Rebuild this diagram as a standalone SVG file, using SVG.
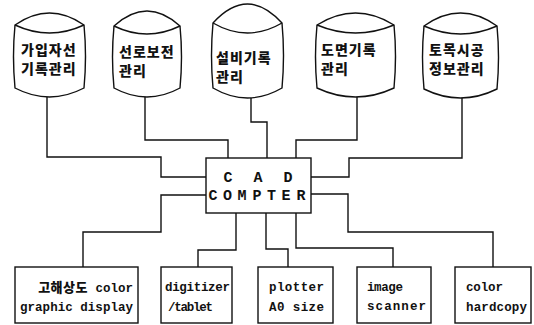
<svg xmlns="http://www.w3.org/2000/svg" width="534" height="325" viewBox="0 0 534 325">
<style>
.s{fill:#fff;stroke:#111;stroke-width:1.4}
.ln{fill:none;stroke:#111;stroke-width:1.4}
.k{font-family:"Noto Sans CJK KR","Noto Sans",sans-serif;font-weight:900;font-size:14px;fill:#111;letter-spacing:1px}
.m{font-family:"Liberation Mono","DejaVu Sans Mono",monospace;font-weight:bold;font-size:12.5px;fill:#111}
.c{font-family:"Liberation Mono","DejaVu Sans Mono",monospace;font-weight:bold;font-size:15px;fill:#111;text-anchor:middle}
</style>
<rect width="534" height="325" fill="#fff"/>
<g id="connectors">
<path class="ln" d="M47,97 V157 H161 V177 H206"/>
<path class="ln" d="M145,97 V140 H228 V158"/>
<path class="ln" d="M251,98 V122 H267 V158"/>
<path class="ln" d="M357,97 V140 H296 V158"/>
<path class="ln" d="M462,98 V158 H349 V177 H311"/>
<path class="ln" d="M206,195 H161 V232 H83 V267"/>
<path class="ln" d="M236,213 V250 H198 V267"/>
<path class="ln" d="M266,213 V249 H288 V267"/>
<path class="ln" d="M296,213 V248 H393 V267"/>
<path class="ln" d="M311,194 H348 V232 H493 V267"/>
</g>
<g id="db1">
<path class="s" d="M15,25 Q49.5,1 84,25 Q87,56.5 84,88 Q49.5,106 15,88 Q12,56.5 15,25 Z"/>
<path class="ln" d="M15,25 Q49.5,41 84,25"/>
<text class="k" x="21" y="54.5">가입자선</text>
<text class="k" x="21" y="73.5">기록관리</text>
</g>
<g id="db2">
<path class="s" d="M114,26 Q147,-4 180,26 Q183,57 180,88 Q147,106 114,88 Q111,57 114,26 Z"/>
<path class="ln" d="M114,26 Q147,42 180,26"/>
<text class="k" x="119" y="57">선로보전</text>
<text class="k" x="119" y="76">관리</text>
</g>
<g id="db3">
<path class="s" d="M213,23 Q247.5,-15 282,23 Q285,55.5 282,88 Q247.5,108 213,88 Q210,55.5 213,23 Z"/>
<path class="ln" d="M213,23 Q247.5,43 282,23"/>
<text class="k" x="216" y="62.5">설비기록</text>
<text class="k" x="216" y="81.5">관리</text>
</g>
<g id="db4">
<path class="s" d="M317,25 Q355.5,1 394,25 Q397,56.5 394,88 Q355.5,106 317,88 Q314,56.5 317,25 Z"/>
<path class="ln" d="M317,25 Q355.5,41 394,25"/>
<text class="k" x="321" y="55">도면기록</text>
<text class="k" x="321" y="74">관리</text>
</g>
<g id="db5">
<path class="s" d="M424,26 Q460.5,0 497,26 Q500,57.5 497,89 Q460.5,107 424,89 Q421,57.5 424,26 Z"/>
<path class="ln" d="M424,26 Q460.5,42 497,26"/>
<text class="k" x="429" y="54.5">토목시공</text>
<text class="k" x="429" y="73.5">정보관리</text>
</g>
<g id="cad">
<rect class="s" x="206" y="158" width="105" height="55"/>
<text class="c" x="228 258 288" y="182">CAD</text>
<text class="c" x="213 227.5 242 257 271.5 286 301" y="200">COMPTER</text>
</g>
<g id="out1">
<rect class="s" x="15" y="267" width="123" height="56"/>
<text class="m" x="133" y="292" text-anchor="end"><tspan class="k" style="font-size:13px;letter-spacing:0.5px">고해상도</tspan> color</text>
<text class="m" x="20" y="311" textLength="113">graphic display</text>
</g>
<g id="out2">
<rect class="s" x="161" y="267" width="71" height="56"/>
<text class="m" x="165" y="291" textLength="65">digitizer</text>
<text class="m" x="168" y="311" textLength="45">/tablet</text>
</g>
<g id="out3">
<rect class="s" x="258" y="267" width="75" height="56"/>
<text class="m" x="269" y="291" textLength="55">plotter</text>
<text class="m" x="269" y="311" textLength="55">A0 size</text>
</g>
<g id="out4">
<rect class="s" x="357" y="267" width="74" height="56"/>
<text class="m" x="367" y="291" textLength="36">image</text>
<text class="m" x="367" y="310" textLength="59">scanner</text>
</g>
<g id="out5">
<rect class="s" x="455" y="267" width="76" height="56"/>
<text class="m" x="466" y="291" textLength="37">color</text>
<text class="m" x="466" y="311" textLength="61">hardcopy</text>
</g>
</svg>
